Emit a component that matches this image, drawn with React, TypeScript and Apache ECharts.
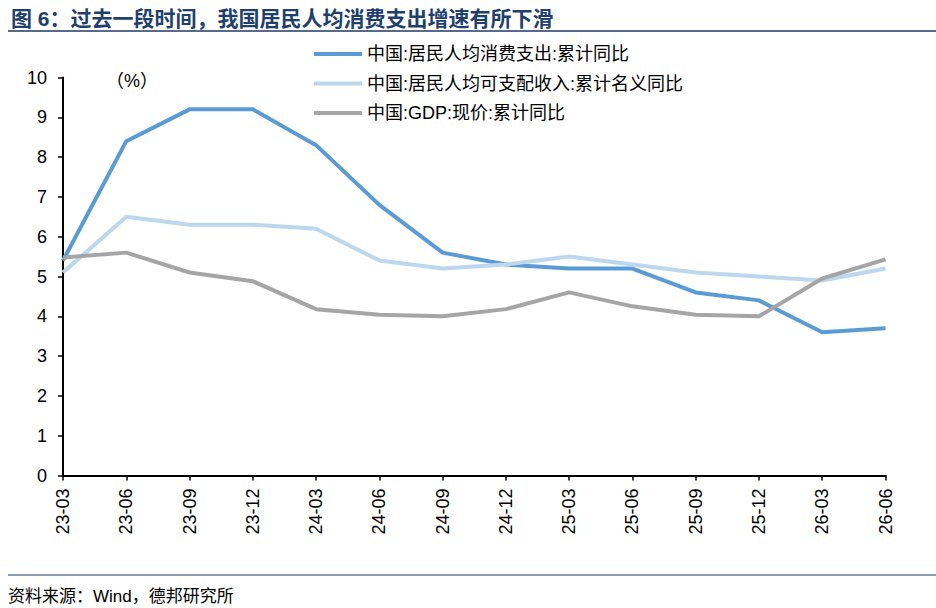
import React, { useEffect, useRef } from "react";
import * as echarts from "echarts";

const categories = [
  "23-03", "23-06", "23-09", "23-12", "24-03", "24-06", "24-09",
  "24-12", "25-03", "25-06", "25-09", "25-12", "26-03", "26-06",
];

// 中国:居民人均消费支出:累计同比
const consumption = [5.4, 8.4, 9.2, 9.2, 8.3, 6.8, 5.6, 5.3, 5.2, 5.2, 4.6, 4.4, 3.6, 3.7];
// 中国:居民人均可支配收入:累计名义同比
const income = [5.1, 6.5, 6.3, 6.3, 6.2, 5.4, 5.2, 5.3, 5.5, 5.3, 5.1, 5.0, 4.9, 5.2];
// 中国:GDP:现价:累计同比
const gdp = [5.48, 5.6, 5.1, 4.88, 4.18, 4.04, 4.0, 4.18, 4.6, 4.25, 4.04, 4.0, 4.95, 5.43];

const seriesNames = [
  "中国:居民人均消费支出:累计同比",
  "中国:居民人均可支配收入:累计名义同比",
  "中国:GDP:现价:累计同比",
];
const seriesColors = ["#5B9BD5", "#BDD7EE", "#A5A5A5"];

const titleText = "图 6：过去一段时间，我国居民人均消费支出增速有所下滑";
const sourceText = "资料来源：Wind，德邦研究所";

const FONT = '"Liberation Sans", Arial, "Noto Sans CJK SC", sans-serif';

export default function App() {
  const chartRef = useRef<HTMLDivElement>(null);

  useEffect(() => {
    if (!chartRef.current) return;
    const chart = echarts.init(chartRef.current, undefined, { renderer: "svg" });

    const values = [consumption, income, gdp];

    chart.setOption({
      animation: false,
      backgroundColor: "#fff",
      textStyle: { fontFamily: FONT },
      title: {
        text: titleText,
        left: 6,
        top: 3,
        textStyle: {
          fontFamily: FONT,
          fontSize: 21,
          fontWeight: "bold",
          color: "#1F3F6E",
        },
      },
      graphic: [
        {
          type: "line",
          shape: { x1: 8, y1: 31, x2: 936, y2: 31 },
          style: { stroke: "#1F3864", lineWidth: 1.5 },
        },
        {
          type: "line",
          shape: { x1: 8, y1: 575, x2: 936, y2: 575 },
          style: { stroke: "#1F3864", lineWidth: 1.2 },
        },
        {
          type: "text",
          left: 8,
          top: 588,
          style: {
            text: sourceText,
            fontFamily: FONT,
            fontSize: 17,
            fill: "#000",
          },
        },
        {
          type: "text",
          left: 106,
          top: 72,
          style: {
            text: "（%）",
            fontFamily: FONT,
            fontSize: 18,
            fill: "#000",
          },
        },
      ],
      legend: {
        orient: "vertical",
        left: 309,
        top: 39,
        itemWidth: 48,
        itemHeight: 4,
        itemGap: 9.5,
        icon: "rect",
        textStyle: {
          fontFamily: FONT,
          fontSize: 18,
          lineHeight: 20,
          color: "#000",
        },
        data: seriesNames,
      },
      grid: {
        left: 63,
        right: 50.5,
        top: 77.5,
        bottom: 132.5,
        containLabel: false,
      },
      xAxis: {
        type: "category",
        data: categories,
        boundaryGap: false,
        axisLine: { lineStyle: { color: "#000", width: 2 } },
        axisTick: { show: true, length: 5, lineStyle: { color: "#000", width: 1.5 } },
        axisLabel: {
          rotate: 90,
          interval: 0,
          margin: 13,
          color: "#000",
          fontFamily: FONT,
          fontSize: 18,
        },
        splitLine: { show: false },
      },
      yAxis: {
        type: "value",
        min: 0,
        max: 10,
        interval: 1,
        axisLine: { show: true, lineStyle: { color: "#000", width: 2 } },
        axisTick: { show: true, length: 5, lineStyle: { color: "#000", width: 1.5 } },
        axisLabel: {
          margin: 16,
          color: "#000",
          fontFamily: FONT,
          fontSize: 18,
        },
        splitLine: { show: false },
      },
      series: seriesNames.map((name, i) => ({
        name,
        type: "line",
        data: values[i],
        symbol: "none",
        showSymbol: false,
        lineStyle: { width: 4, color: seriesColors[i] },
        itemStyle: { color: seriesColors[i] },
      })),
    });

    return () => {
      chart.dispose();
    };
  }, []);

  return (
    <div
      style={{
        position: "fixed",
        left: 0,
        top: 0,
        width: 936,
        height: 608,
        background: "#fff",
      }}
    >
      <div ref={chartRef} style={{ width: 936, height: 608 }} />
    </div>
  );
}
